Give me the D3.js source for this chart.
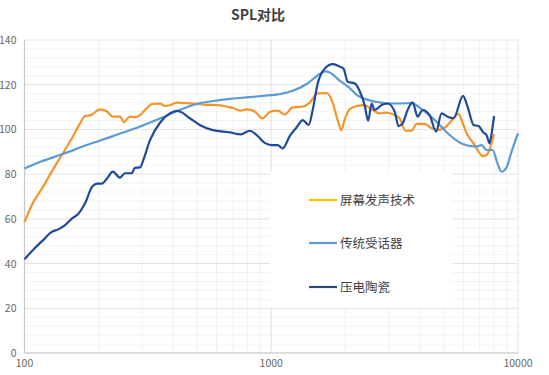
<!DOCTYPE html>
<html>
<head>
<meta charset="utf-8">
<script src="https://cdn.jsdelivr.net/npm/d3@7"></script>
<style>
  body { margin: 0; background: #fff; }
  text { font-family: "Noto Sans CJK SC", "Liberation Sans", sans-serif; }
</style>
</head>
<body>
<svg id="chart"></svg>
<script>
// Series data: frequency (Hz) and SPL (dB)
const screenFreq = [100, 108, 119, 130, 143, 157, 168, 176, 186, 202, 216, 228, 244, 253, 267, 283, 294, 310, 331, 354, 371, 388, 415, 455, 499, 548, 602, 660, 705, 746, 796, 857, 924, 986, 1062, 1134, 1222, 1341, 1432, 1543, 1678, 1774, 1859, 1924, 1985, 2079, 2219, 2390, 2552, 2750, 2935, 3162, 3313, 3503, 3706, 3883, 4183, 4466, 4811, 5135, 5431, 5743, 5961, 6246, 6605, 6920, 7182, 7457, 7668, 7812, 8000];
const screenSpl = [58.5, 67, 74.4, 81.8, 89.3, 96.7, 102.7, 106, 106.4, 109, 108, 105.7, 105.7, 103.2, 105.7, 105.5, 106.5, 109, 111.4, 111.5, 110.5, 110.8, 112, 111.8, 111.4, 111, 110.9, 110.2, 109.5, 108.4, 109, 108, 105, 107.8, 108.4, 106.7, 109.9, 110.2, 112, 116.1, 116.2, 112, 104, 99.7, 104.5, 109, 110.5, 110.9, 109, 107.2, 107.5, 106.4, 105, 99.5, 99.5, 102.5, 102.5, 100.5, 99.8, 101.5, 104.5, 107, 103, 97.5, 93.8, 90, 88.1, 88.6, 90.8, 93.8, 97.9];

const receiverFreq = [100, 116, 143, 179, 228, 294, 364, 426, 499, 580, 679, 796, 924, 1082, 1222, 1392, 1528, 1647, 1725, 1894, 2079, 2219, 2505, 2750, 3019, 3313, 3706, 4106, 4677, 5282, 5961, 6792, 7116, 7457, 7885, 8260, 8575, 8982, 9413, 10000];
const receiverSpl = [82.5, 85.5, 89, 93, 97, 101.3, 105.4, 108.8, 111.4, 112.7, 113.7, 114.3, 115, 115.8, 117.3, 120.3, 123.8, 126, 125.5, 121.8, 118.5, 115.5, 113, 112.1, 111.6, 111.6, 111.8, 108.7, 103.4, 97.5, 93.5, 92.3, 93, 90.8, 90.8, 84.8, 81.1, 83, 90, 98.2];

const piezoFreq = [100, 108, 119, 129, 137, 146, 156, 165, 176, 188, 197, 206, 216, 228, 244, 255, 272, 280, 294, 303, 322, 354, 388, 415, 426, 468, 513, 580, 679, 753, 818, 873, 941, 1005, 1062, 1113, 1188, 1268, 1341, 1418, 1472, 1543, 1647, 1774, 1894, 1966, 2040, 2178, 2282, 2390, 2470, 2552, 2624, 2802, 2963, 3162, 3283, 3407, 3569, 3741, 3919, 4106, 4383, 4656, 4901, 5183, 5482, 5989, 6246, 6605, 6920, 7251, 7457, 7668, 7812, 8000];
const piezoSpl = [41.9, 46, 50.5, 54.2, 55.3, 57.2, 60.2, 62.2, 67, 74.4, 75.8, 75.8, 78.1, 81.1, 78.4, 80.4, 80.4, 82.8, 83, 86.3, 95, 103, 107.2, 108.3, 108, 105, 102, 99.7, 98.7, 97.8, 99.4, 97.5, 94, 93, 93, 91.5, 97, 101, 104.2, 102, 108.7, 120.6, 127.2, 129.2, 128.1, 127, 121.3, 120.6, 117.2, 110.9, 103.9, 111.6, 108.7, 110.9, 111.6, 108, 101.5, 102.7, 108.7, 112.1, 105.7, 108.7, 106.4, 99, 107.2, 105.7, 105, 115, 110.2, 102, 101.5, 98.5, 97.5, 93.8, 98, 106];

const seriesNames = ["屏幕发声技术", "传统受话器", "压电陶瓷"];
const lineColors = ["#F5942A", "#5B9BD5", "#1F4A9C"];
const legendColors = ["#FFC000", "#5B9BD5", "#2C4A72"];
const xTicks = [100, 1000, 10000];
const yTicks = [0, 20, 40, 60, 80, 100, 120, 140];

const width = 549, height = 375;
const margin = { top: 40, right: 31, bottom: 22, left: 24.5 };
const plotW = width - margin.left - margin.right;
const plotH = height - margin.top - margin.bottom;

const svg = d3.select("#chart").attr("width", width).attr("height", height);

const x = d3.scaleLog().domain([100, 10000]).range([0, plotW]);
const y = d3.scaleLinear().domain([0, 140]).range([plotH, 0]);

const g = svg.append("g").attr("transform", `translate(${margin.left},${margin.top})`);

// Title
svg.append("text")
  .attr("x", 258).attr("y", 20)
  .attr("text-anchor", "middle")
  .attr("font-size", 14).attr("font-weight", "bold")
  .attr("fill", "#404040")
  .text("SPL对比");

// Minor grid
const minorY = d3.range(0, 141, 4).filter(v => v % 20 !== 0);
g.selectAll(".minor-y").data(minorY).enter().append("line")
  .attr("x1", 0).attr("x2", plotW)
  .attr("y1", d => y(d)).attr("y2", d => y(d))
  .attr("stroke", "#f3f3f3").attr("stroke-width", 1);

const minorX = [];
[100, 1000].forEach(b => { for (let k = 2; k <= 9; k++) minorX.push(b * k); });
g.selectAll(".minor-x").data(minorX).enter().append("line")
  .attr("x1", d => x(d)).attr("x2", d => x(d))
  .attr("y1", 0).attr("y2", plotH)
  .attr("stroke", "#f0f0f0").attr("stroke-width", 1);

// Major grid
g.selectAll(".major-y").data(yTicks).enter().append("line")
  .attr("x1", 0).attr("x2", plotW)
  .attr("y1", d => y(d)).attr("y2", d => y(d))
  .attr("stroke", "#e2e2e2").attr("stroke-width", 1);

g.selectAll(".major-x").data(xTicks).enter().append("line")
  .attr("x1", d => x(d)).attr("x2", d => x(d))
  .attr("y1", 0).attr("y2", plotH)
  .attr("stroke", "#e2e2e2").attr("stroke-width", 1);

// Axis lines
g.append("line").attr("x1", 0).attr("x2", 0).attr("y1", 0).attr("y2", plotH)
  .attr("stroke", "#c8c8c8").attr("stroke-width", 1.2);
g.append("line").attr("x1", 0).attr("x2", plotW).attr("y1", plotH).attr("y2", plotH)
  .attr("stroke", "#c8c8c8").attr("stroke-width", 1.2);

// Tick labels
g.selectAll(".ylab").data(yTicks).enter().append("text")
  .attr("x", -8).attr("y", d => y(d) + 4)
  .attr("text-anchor", "end")
  .attr("font-size", 10.5).attr("fill", "#666")
  .text(d => d);

g.selectAll(".xlab").data(xTicks).enter().append("text")
  .attr("x", d => x(d)).attr("y", plotH + 14)
  .attr("text-anchor", "middle")
  .attr("font-size", 10.5).attr("fill", "#666")
  .text(d => d);

// Lines
const line = d3.line()
  .x(d => x(d[0]))
  .y(d => y(d[1]))
  .curve(d3.curveMonotoneX);

const series = [
  d3.zip(screenFreq, screenSpl),
  d3.zip(receiverFreq, receiverSpl),
  d3.zip(piezoFreq, piezoSpl)
];

// Legend background sits over the grid but under the lines
const legend = svg.append("g");
legend.append("rect")
  .attr("x", 270).attr("y", 172)
  .attr("width", 182).attr("height", 135)
  .attr("fill", "#fff");

series.forEach((s, i) => {
  g.append("path")
    .datum(s)
    .attr("fill", "none")
    .attr("stroke", lineColors[i])
    .attr("stroke-width", 2.2)
    .attr("stroke-linejoin", "round")
    .attr("d", line);
});

// Legend items
const legendY = [200, 243, 287];
seriesNames.forEach((name, i) => {
  svg.append("line")
    .attr("x1", 309).attr("x2", 337)
    .attr("y1", legendY[i]).attr("y2", legendY[i])
    .attr("stroke", legendColors[i]).attr("stroke-width", 2.2);
  svg.append("text")
    .attr("x", 340).attr("y", legendY[i] + 4.5)
    .attr("font-size", 12.5).attr("fill", "#404040")
    .text(name);
});
</script>
</body>
</html>
